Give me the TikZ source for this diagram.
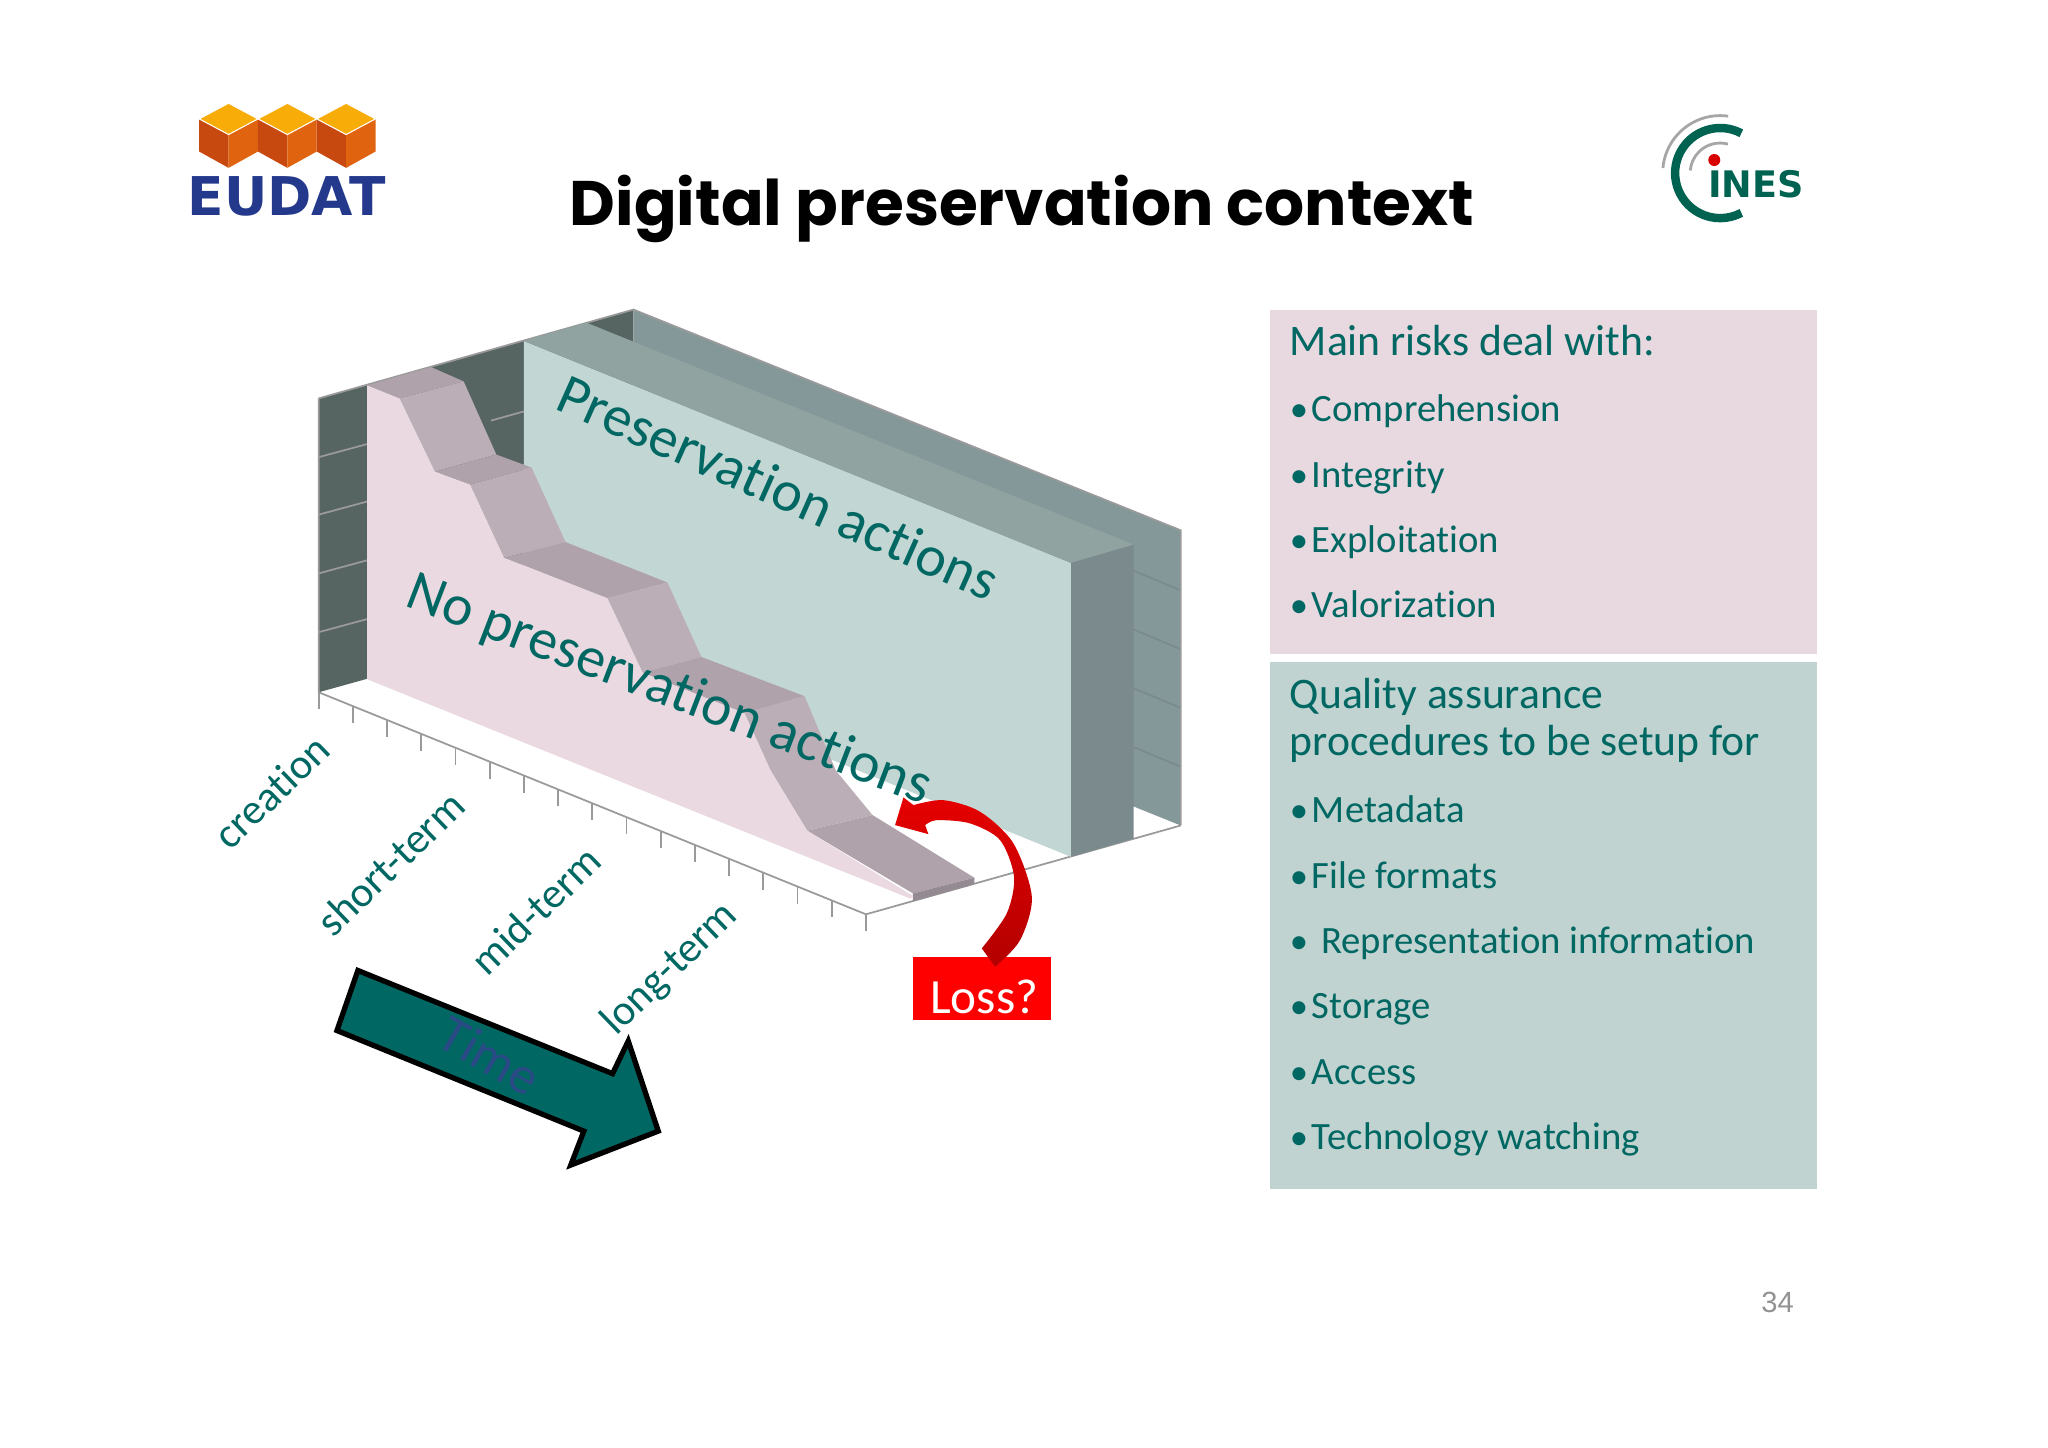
\documentclass[tikz,border=0pt]{standalone}
\usepackage{fontspec}
\setmainfont[Ligatures=NoCommon]{Carlito}
\newfontfamily\titlefont{Poppins}
\newfontfamily\logofont{DejaVu Sans}
\newfontfamily\pagefont{Liberation Sans}
\usetikzlibrary{calc}

\definecolor{tealtext}{HTML}{006763}
\definecolor{panelpink}{HTML}{E8D8DF}
\definecolor{panelgreen}{HTML}{C0D3D0}
\definecolor{darkwall}{HTML}{566462}
\definecolor{backwall}{HTML}{84989A}
\definecolor{greenface}{HTML}{C2D6D4}
\definecolor{greentop}{HTML}{90A3A0}
\definecolor{greenside}{HTML}{7B8A8C}
\definecolor{pinkface}{HTML}{EAD9E0}
\definecolor{steptop}{HTML}{B0A2AA}
\definecolor{stepriser}{HTML}{BBAEB6}
\definecolor{stepedge}{HTML}{948A91}
\definecolor{axisgrey}{HTML}{9A9A9A}
\definecolor{timeblue}{HTML}{2A4A86}
\definecolor{eudatblue}{HTML}{24398C}
\definecolor{inesgreen}{HTML}{006250}
\definecolor{cubeleft}{HTML}{C8490F}
\definecolor{cuberight}{HTML}{E0640F}
\definecolor{cubetop}{HTML}{F7AC08}

\newcommand{\bul}{\makebox[6.3pt][l]{\scalebox{.95}{•}}}

\tikzset{
  heading/.style={anchor=base west, text=tealtext, font=\fontsize{12.4}{14}\selectfont, inner sep=0pt},
  item/.style={anchor=base west, text=tealtext, font=\fontsize{11}{13}\selectfont, inner sep=0pt},
  slanted/.style={text=tealtext, font=\fontsize{16.4}{18}\selectfont, inner sep=0pt},
  term/.style={text=tealtext, rotate=44, font=\fontsize{12.1}{14}\selectfont, inner sep=0pt},
  axisline/.style={axisgrey, line width=.5pt}
}

\begin{document}
\begin{tikzpicture}[x=0.013061cm, y=-0.013061cm]
\useasboundingbox (0,0) rectangle (1568,1108);

% logos
\foreach \x in {175,220,265} {
  \fill[cubeleft] (\x-22.5,91)--(\x,103)--(\x,128.5)--(\x-22.5,116)--cycle;
  \fill[cuberight] (\x+22.5,91)--(\x,103)--(\x,128.5)--(\x+22.5,116)--cycle;
  \fill[cubetop, draw=white, line width=.3pt] (\x-22.5,91)--(\x,79)--(\x+22.5,91)--(\x,103)--cycle;
}
\node[text=eudatblue, font=\logofont\bfseries\fontsize{15.2}{17}\selectfont, inner sep=0pt] (eudat) at (219.5,150) {EUDAT};

\draw[line width=2.4pt, inesgreen] (1317,132.5) ++(-62:34.5) arc[start angle=-62, end angle=-298, radius=34.5];
\draw[line width=.8pt, gray!70] (1317,132.5) ++(-82:44) arc[start angle=-82, end angle=-175, radius=44];
\draw[line width=.8pt, gray!70] (1317,132.5) ++(-75:23) arc[start angle=-75, end angle=-175, radius=23];
\fill[red!85!black] (1312.5,122.5) circle (4.6);
\node[text=inesgreen, font=\logofont\bfseries\fontsize{10.4}{12}\selectfont, inner sep=0pt] (ines) at (1344.5,141) {INES};

\node[font=\titlefont\bfseries\fontsize{17.9}{22}\selectfont, inner sep=0pt] (title) at (782.5,160) {Digital preservation context};

% chart walls
\fill[darkwall] (244,305)--(485,237)--(485,463)--(244,530)--cycle;
\fill[backwall] (485,237)--(904,406)--(904,632)--(485,463)--cycle;
\foreach \y in {350,394,439,484} \draw[axisgrey, line width=.5pt] (244,\y)--(281,\y-10);
\draw[axisgrey, line width=.5pt] (376,322)--(401,315);
\foreach \y in {452,497,542,587} \draw[greenside, line width=.5pt] (868,\y-15)--(904,\y);
\draw[axisline] (244,305)--(485,237)--(904,406)--(904,632);
\draw[axisline] (244,305)--(244,530)--(663,700)--(904,632);
\foreach \i in {0,1,...,16} \draw[axisline] ($(244,530)!\i/16!(663,700)$) --++(0,13);

% green wall
\fill[greenface] (401,261)--(820,431)--(820,656)--(401,486)--cycle;
\fill[greentop] (401,261)--(449,247)--(868,417)--(820,431)--cycle;
\fill[greenside] (820,431)--(868,417)--(868,642)--(820,656)--cycle;

% stairs
\fill[steptop] (281,295)--(330,281)--(355,292)--(306,305)--cycle;
\fill[stepriser] (306,305)--(355,292)--(380,348)--(333,361)--cycle;
\fill[steptop] (333,361)--(380,348)--(407,358)--(360,371)--cycle;
\fill[stepriser] (360,371)--(407,358)--(433,415)--(386,427)--cycle;
\fill[steptop] (386,427)--(433,415)--(511,446)--(465,458)--cycle;
\fill[stepriser] (465,458)--(511,446)--(537,503)--(492,515)--cycle;
\fill[steptop] (492,515)--(537,503)--(616,533)--(570,546)--cycle;
\fill[stepriser] (570,546)--(616,533)--(640,590)--(668,624)--(618,636)--(590,590)--cycle;
\fill[steptop] (618,636)--(668,624)--(746,672)--(699,684)--cycle;
\fill[stepedge] (699,684)--(746,672)--(746,677)--(699,690)--cycle;
\fill[pinkface] (281,295)--(306,305)--(333,361)--(360,371)--(386,427)--(465,458)--(492,515)--(570,546)--(590,590)--(618,636)--(699,686)--(697,688)--(281,520)--cycle;

\node[slanted, rotate=-24] (keep) at (596,373) {Preservation actions};
\node[slanted, rotate=-21] (lost) at (512,529) {No preservation actions};

% axis labels
\node[term] (creation) at (208,606) {creation};
\node[term] (short) at (299,661) {short-term};
\node[term] (mid) at (410,697) {mid-term};
\node[term] (long) at (513,742) {long-term};

% time arrow
\draw[line width=1.5pt, fill=tealtext, miter limit=10] (274,743)--(469,822)--(481,797)--(504,866)--(437,892)--(447,866)--(258,789)--cycle;
\node[text=timeblue, font=\fontsize{15}{17}\selectfont, rotate=-30, inner sep=0pt] (time) at (375,808) {Time};

% loss
\fill[red] (699,733) rectangle (805,781);
\node[text=white, font=\fontsize{14}{16}\selectfont, inner sep=0pt] (loss) at (753.5,763) {Loss?};
\shade[top color=red!90!black, bottom color=red!70!black] (685.3,631.7)--(691.7,610.5)--(699.3,616.4)
  --plot[smooth] coordinates {(699.3,616.4) (722.3,612.6) (750.4,621.5) (775.9,645.7) (790,686.6) (781,719.8) (761.9,740.2)}
  --plot[smooth] coordinates {(751.7,726.1) (770.8,699.3) (776.4,671.3) (765.7,643.2) (742.7,630.4) (717.2,627.9) (708.3,631.7)}
  --(710.8,638.6)--cycle;

% panels
\fill[panelpink] (972,237) rectangle (1391,501);
\fill[panelgreen] (972,507) rectangle (1391,910);
\node[heading] (risks) at (987,272.5) {Main risks deal with:};
\foreach \y/\t [count=\n] in {323/Comprehension, 373/Integrity, 423/Exploitation, 473/Valorization}
  \node[item] (risk\n) at (987,\y) {\bul\t};
\node[heading] (quality) at (987,542.5) {Quality assurance};
\node[heading] (setup) at (987,578.5) {procedures to be setup for};
\foreach \y/\t [count=\n] in {630/Metadata, 680/File formats, 780/Storage, 830/Access, 880/Technology watching}
  \node[item] (proc\n) at (987,\y) {\bul\t};
\node[item] (proc) at (987,730) {\bul\hspace{2.6pt}Representation information};

\node[text=gray!85, font=\pagefont\fontsize{8.3}{10}\selectfont, inner sep=0pt] (page) at (1361,997) {34};
\end{tikzpicture}
\end{document}
